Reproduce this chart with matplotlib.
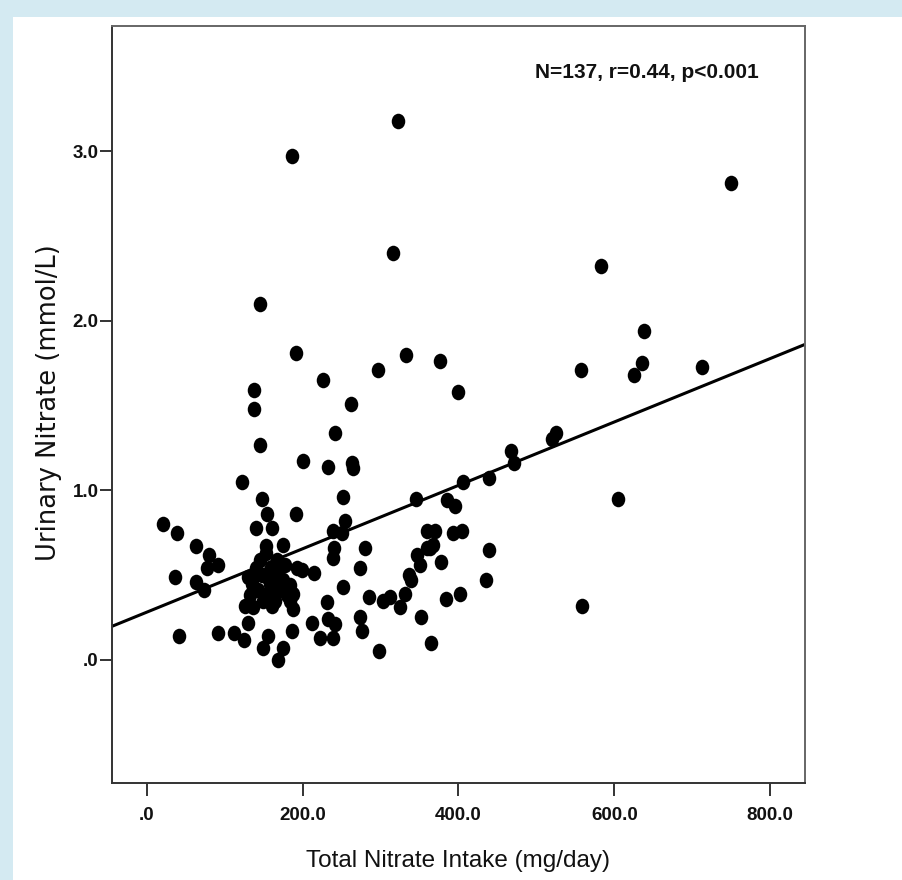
import numpy as np
import matplotlib
matplotlib.use("Agg")
import matplotlib.pyplot as plt
from matplotlib.path import Path
from matplotlib.transforms import Affine2D
from matplotlib.patches import Rectangle

# ---- data ----
intake = [323, 187, 750, 316, 583, 146, 638, 192, 333, 377,
          636, 625, 713, 557, 297, 226, 138, 138, 400, 262,
          242, 146, 201, 233, 264, 265, 122, 148, 252, 192,
          155, 255, 346, 385, 396, 406, 439, 468, 471, 525,
          520, 605, 21, 39, 140, 161, 239, 251, 360, 370,
          393, 405, 63, 153, 175, 240, 280, 360, 368, 439,
          80, 347, 239, 92, 78, 351, 378, 140, 167, 193,
          199, 215, 274, 36, 169, 337, 339, 436, 63, 135,
          158, 167, 74, 155, 180, 188, 252, 285, 303, 312,
          332, 384, 402, 149, 137, 126, 188, 231, 325, 559,
          130, 112, 92, 42, 125, 156, 149, 187, 175, 169,
          212, 222, 233, 242, 239, 274, 276, 352, 298, 365,
          130, 148, 175, 161, 143, 178, 153, 184, 158, 146,
          174, 133, 165, 156, 184, 139, 364]
urinary = [3.18, 2.97, 2.81, 2.40, 2.32, 2.10, 1.94, 1.81, 1.80, 1.76,
           1.75, 1.68, 1.73, 1.71, 1.71, 1.65, 1.59, 1.48, 1.58, 1.51,
           1.34, 1.27, 1.17, 1.14, 1.16, 1.13, 1.05, 0.95, 0.96, 0.86,
           0.86, 0.82, 0.95, 0.94, 0.91, 1.05, 1.07, 1.23, 1.16, 1.34,
           1.30, 0.95, 0.80, 0.75, 0.78, 0.78, 0.76, 0.75, 0.76, 0.76,
           0.75, 0.76, 0.67, 0.67, 0.68, 0.66, 0.66, 0.66, 0.68, 0.65,
           0.62, 0.62, 0.60, 0.56, 0.54, 0.56, 0.58, 0.54, 0.59, 0.54,
           0.53, 0.51, 0.54, 0.49, 0.51, 0.50, 0.47, 0.47, 0.46, 0.45,
           0.45, 0.43, 0.41, 0.39, 0.38, 0.39, 0.43, 0.37, 0.35, 0.37,
           0.39, 0.36, 0.39, 0.35, 0.31, 0.32, 0.30, 0.34, 0.31, 0.32,
           0.22, 0.16, 0.16, 0.14, 0.12, 0.14, 0.07, 0.17, 0.07, 0.00,
           0.22, 0.13, 0.24, 0.21, 0.13, 0.25, 0.17, 0.25, 0.05, 0.10,
           0.49, 0.50, 0.47, 0.32, 0.41, 0.56, 0.63, 0.35, 0.53, 0.59,
           0.41, 0.38, 0.35, 0.48, 0.44, 0.50, 0.66]

fit_intercept = 0.281
fit_slope = 0.00187

x_ticks = [0, 200, 400, 600, 800]
x_tick_labels = [".0", "200.0", "400.0", "600.0", "800.0"]
y_ticks = [0, 1, 2, 3]
y_tick_labels = [".0", "1.0", "2.0", "3.0"]
x_range = (-44.4, 844.6)
y_range = (-0.726, 3.735)

annotation = "N=137, r=0.44, p<0.001"
x_title = "Total Nitrate Intake (mg/day)"
y_title = "Urinary Nitrate (mmol/L)"

# ---- figure ----
W, H = 903, 880
fig = plt.figure(figsize=(W / 100, H / 100), dpi=100)
fig.patch.set_facecolor("white")
blue = "#d4eaf2"
fig.add_artist(Rectangle((0, 1 - 17 / H), 1, 17 / H, transform=fig.transFigure,
                         facecolor=blue, edgecolor="none", zorder=0))
fig.add_artist(Rectangle((0, 0), 12.7 / W, 1, transform=fig.transFigure,
                         facecolor=blue, edgecolor="none", zorder=0))

left, right, top, bottom = 112, 805, 26.5, 783
ax = fig.add_axes([left / W, 1 - bottom / H, (right - left) / W, (bottom - top) / H])
ax.set_facecolor("white")

ell = Path.unit_circle().transformed(Affine2D().scale(0.87, 1.0))
ax.scatter(intake, urinary, marker=ell, s=11.2 ** 2, c="black", linewidths=0, zorder=3)

xs = np.array(x_range)
ax.plot(xs, fit_intercept + fit_slope * xs, color="black", lw=2.2, zorder=2,
        solid_capstyle="butt")

ax.set_xlim(*x_range)
ax.set_ylim(*y_range)

regular = ["Liberation Sans", "DejaVu Sans"]

ax.set_xticks(x_ticks)
ax.set_xticklabels(x_tick_labels, fontsize=13.5, family=regular, weight="bold",
                   color="#111111")
ax.set_yticks(y_ticks)
ax.set_yticklabels(y_tick_labels, fontsize=13.5, family=regular, weight="bold",
                   color="#111111")
ax.tick_params(axis="x", direction="out", length=9, width=1.4, color="#333333", pad=8)
ax.tick_params(axis="y", direction="out", length=8.6, width=1.4, color="#333333", pad=1)

for side in ["left", "bottom"]:
    ax.spines[side].set_color("#333333")
    ax.spines[side].set_linewidth(1.4)
for side in ["top", "right"]:
    ax.spines[side].set_color("#666666")
    ax.spines[side].set_linewidth(1.4)

ax.set_xlabel(x_title, fontsize=17.5, family=regular, color="#111111",
              verticalalignment="baseline")
ax.xaxis.set_label_coords(0.5, (bottom - 866.7) / (bottom - top))
ax.set_ylabel(y_title, fontsize=18.5, family=["DejaVu Sans"], color="#111111",
              verticalalignment="center")
ax.yaxis.set_label_coords((49 - left) / (right - left), (bottom - 403) / (bottom - top))

ax.text((535 - left) / (right - left), (bottom - 78.3) / (bottom - top), annotation,
        transform=ax.transAxes, ha="left", va="baseline", fontsize=15,
        family=regular, weight="bold", color="#111111")

fig.savefig("out.png", dpi=100)
